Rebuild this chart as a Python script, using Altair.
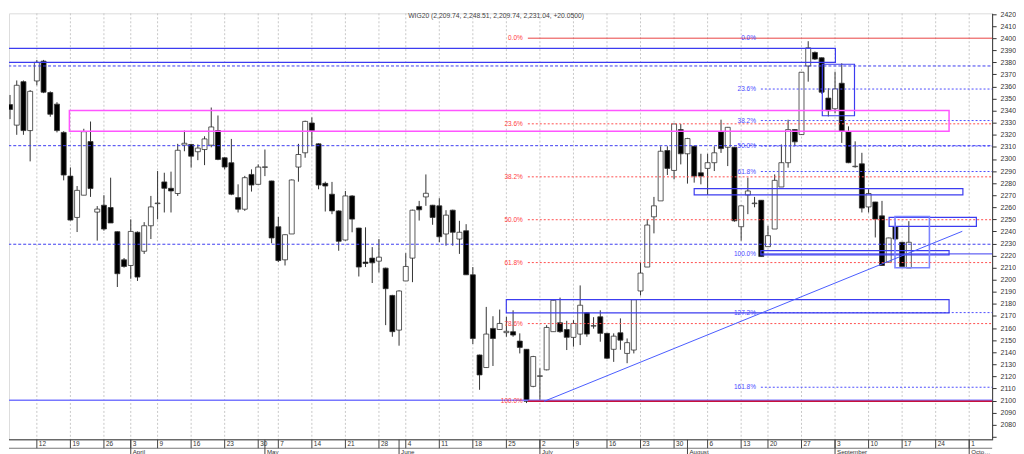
import altair as alt
import pandas as pd

# ---------------- data (WIG20 daily, 2018-03-06 .. 2018-09-18) ----------------
open_ = [2345, 2328, 2364, 2323.5, 2364.6, 2381, 2355, 2345.4, 2322, 2285.8,
         2251.6, 2270, 2314.4, 2256, 2261.7, 2259.8, 2239.8, 2216.5, 2211.8, 2239.3,
         2223.6, 2244.7, 2263, 2281, 2275.7, 2271.4, 2311.5, 2312, 2306, 2307.8,
         2311.4, 2323.5, 2301, 2296.9, 2268, 2258.4, 2287.2, 2279, 2293, 2281.8,
         2243.9, 2216.5, 2237.9, 2293.3, 2305.1, 2329.8, 2312.5, 2279.8, 2270.8, 2257,
         2232.9, 2269.4, 2242.8, 2214.6, 2217.9, 2215.4, 2209.6, 2187, 2158.3, 2199,
         2217.9, 2260.7, 2268.6, 2261.7, 2261.2, 2237.9, 2257.6, 2233.7, 2240.6, 2204.1,
         2137.7, 2127.3, 2159.7, 2158.8, 2156.2, 2157, 2149.2, 2142.4, 2111.7, 2120,
         2125.4, 2157, 2164.4, 2158.8, 2152.3, 2155, 2172.6, 2161.6, 2169.3, 2155.6,
         2142.4, 2156.1, 2139, 2141.8, 2190.7, 2210.5, 2252.1, 2265.3, 2307, 2290.5,
         2324.3, 2304.3, 2310.5, 2288.6, 2292.2, 2296.9, 2322.4, 2309.7, 2309.7, 2243.9,
         2270.2, 2263, 2265.8, 2227.4, 2242, 2276.8, 2296.9, 2324.3, 2320.2, 2377,
         2388.2, 2383.8, 2350.4, 2341.6, 2362.7, 2322.4, 2293.6, 2296, 2260.3, 2264.4,
         2252.9, 2214.6, 2243.9, 2231, 2209.74]
high = [2353, 2365, 2365, 2357, 2382, 2382, 2356, 2347, 2323, 2293,
        2277.6, 2325, 2331, 2261, 2270, 2284.5, 2240, 2218, 2250, 2240,
        2247.7, 2269.4, 2290, 2288.6, 2289.5, 2312.5, 2323.5, 2312.5, 2312, 2318.8,
        2342.6, 2336, 2301.5, 2316.6, 2279, 2286, 2291.4, 2295.5, 2307.8, 2282,
        2252, 2237.5, 2283, 2312.5, 2331.7, 2334.4, 2313, 2281.2, 2281, 2257.5,
        2273.5, 2270, 2243, 2243.4, 2227, 2233.7, 2210, 2187.5, 2191.2, 2222,
        2258, 2265.3, 2287.2, 2262, 2267.5, 2257.6, 2258, 2248.8, 2246, 2210.5,
        2138, 2177.5, 2169.8, 2175.3, 2169.3, 2174.7, 2155.6, 2142.5, 2137, 2126.7,
        2162.4, 2183.5, 2185.2, 2166, 2166.5, 2195.3, 2173, 2169, 2174.7, 2156,
        2155.6, 2168, 2151.4, 2184, 2214.6, 2250.2, 2268.6, 2310.5, 2310.5, 2329,
        2329, 2317.5, 2311, 2304.3, 2304.3, 2310.5, 2332.5, 2326.5, 2310, 2261.5,
        2284.5, 2268.6, 2266, 2244.7, 2287.2, 2312, 2332.5, 2324.5, 2372, 2397.5,
        2389, 2384, 2358.6, 2372.3, 2379.2, 2327, 2314.6, 2305.1, 2274.9, 2264.5,
        2265.3, 2234.8, 2247.5, 2231.2, 2248.51]
low = [2333, 2320, 2320, 2298, 2361, 2354.5, 2335, 2322, 2282.3, 2249,
       2239.5, 2270, 2268.6, 2232.4, 2240.6, 2247, 2194, 2210, 2200.8, 2199,
       2221.4, 2233.7, 2250, 2255.7, 2255.7, 2269.4, 2306.4, 2292.8, 2299, 2294.9,
       2309.7, 2299, 2291.4, 2270, 2255.7, 2257, 2273, 2279, 2285.8, 2230.2,
       2214.6, 2211.8, 2237.9, 2281.2, 2301, 2310.5, 2274.9, 2256.5, 2254.3, 2224,
       2232.4, 2239.3, 2202.7, 2210.5, 2197.3, 2206, 2162.4, 2152.8, 2145.4, 2199,
       2198, 2249, 2261.2, 2245.5, 2231, 2228.2, 2228.2, 2221.4, 2204, 2146.8,
       2108.9, 2127, 2128.6, 2158.5, 2152.8, 2152.8, 2139, 2097.9, 2111, 2099.3,
       2125, 2157, 2156.1, 2141.8, 2144.6, 2145.9, 2152.8, 2159.5, 2148.7, 2134.5,
       2132, 2142, 2130.9, 2139, 2187, 2210.5, 2238.4, 2265.3, 2286.7, 2283.1,
       2295.5, 2279.6, 2280.4, 2279, 2270.2, 2290, 2305, 2294.1, 2248, 2232.4,
       2254.3, 2260, 2219, 2227.4, 2242, 2276.8, 2292.8, 2310.5, 2320, 2364,
       2382, 2354, 2335.2, 2338, 2313.3, 2296.5, 2292.8, 2255.7, 2255.7, 2235,
       2211.5, 2214.4, 2232.4, 2211, 2209.74]
close = [2341, 2361, 2323.5, 2356, 2380, 2355.3, 2337, 2323.5, 2286.7, 2249.4,
         2274, 2322.6, 2275.5, 2258.5, 2242, 2247, 2205, 2211, 2240, 2202.2,
         2244.7, 2260.3, 2263.5, 2275.7, 2273.5, 2307.2, 2313, 2302.3, 2309, 2316.6,
         2326.5, 2299.6, 2293.3, 2270.8, 2258.4, 2284.5, 2278.4, 2293.3, 2293.5, 2234.6,
         2215.9, 2237.3, 2282.6, 2303.7, 2331.1, 2323.5, 2278.4, 2277.6, 2257, 2231.8,
         2269.4, 2250.2, 2210.5, 2213.5, 2214, 2218.7, 2192.6, 2157, 2190.7, 2211,
         2257.6, 2257.9, 2271.6, 2251.6, 2235.6, 2253.5, 2239.3, 2239.3, 2204.1, 2151.4,
         2121.2, 2155, 2151.4, 2163.8, 2157.3, 2154.2, 2144, 2099.3, 2136.4, 2120.5,
         2160.5, 2183, 2157, 2152.3, 2163.8, 2178.9, 2155, 2162, 2155.6, 2135,
         2153.3, 2150, 2147.9, 2183.5, 2205.5, 2245.3, 2261.2, 2306.4, 2292.2, 2329,
         2304.3, 2316.9, 2285.8, 2285.8, 2296.9, 2305.1, 2308.6, 2326.2, 2248.8, 2261.2,
         2273.5, 2263.5, 2219.2, 2236.5, 2282.3, 2296.9, 2324.3, 2314.2, 2371.8, 2392,
         2382.7, 2355.3, 2340, 2358, 2322.9, 2296.9, 2294, 2259.3, 2271.4, 2250.2,
         2211.8, 2234.6, 2233.7, 2210.99, 2231.04]

# exchange holidays (GPW 2018) inside the shown period
holidays = ["2018-03-30", "2018-04-02", "2018-05-01", "2018-05-03", "2018-05-31", "2018-08-15"]
month_names = ["March", "April", "May", "June", "July", "August", "September", "October"]

# Fibonacci levels drawn on the chart
red_levels = [2400, 2329.1, 2285.2, 2249.7, 2214.2, 2163.7, 2099.4]
red_labels = ["0.0%", "23.6%", "38.2%", "50.0%", "61.8%", "78.6%", "100.0%"]
blue_levels = [2400, 2357.9, 2331.8, 2310.7, 2289.6, 2221.4, 2172.8, 2111.0]
blue_labels = ["0.0%", "23.6%", "38.2%", "50.0%", "61.8%", "100.0%", "127.2%", "161.8%"]
full_dash_levels = [2377, 2311, 2229.4]
support_level = 2100.2

# rectangles (trading-day index, price)
rect_x1 = [0, 122.1, 9.85, 103.0, 132.06, 132.94, 112.94, 74.99]
rect_x2 = [124.05, 126.9, 141.0, 143.06, 145.07, 138.07, 141.0, 141.0]
rect_top = [2391.5, 2378.4, 2340.2, 2275.5, 2251.6, 2252.4, 2224.1, 2183.5]
rect_bot = [2380.0, 2335.8, 2323.0, 2270.2, 2244.2, 2209.9, 2220.6, 2172.6]
rect_kind = ["blue", "blue", "magenta", "blue", "blue", "light", "blue", "blue"]

# trend line
trend_x = [80.62, 142.97]
trend_p = [2099.3, 2240.1]

red_start, blue_start = 78.2, 112.94
red_label_x, blue_label_x = 77.44, 112.2

title_text = "WIG20 (2,209.74, 2,248.51, 2,209.74, 2,231.04, +20.0500)"

# ---------------- calendar ----------------
days = [d for d in pd.bdate_range("2018-03-05", "2018-10-05")
        if d.strftime("%Y-%m-%d") not in holidays]
cal = pd.DataFrame({"date": days})
cal["idx"] = range(len(cal))          # 2018-03-05 -> 0
cal["wk"] = cal["date"].dt.isocalendar().week.astype(int)
cal["mo"] = cal["date"].dt.month

XMIN, XMAX = 1.587, 146.68
YMIN, YMAX = 2067.5, 2420.6
W, H = 989, 429

wk = cal.groupby("wk").first().reset_index()
wk = wk[(wk["idx"] >= XMIN) & (wk["idx"] <= XMAX)]
week_df = pd.DataFrame({"idx": wk["idx"].values,
                        "lab": wk["date"].dt.day.astype(str).values})
mo = cal.groupby("mo").first().reset_index()
mo["name"] = [month_names[m - 3] for m in mo["mo"]]
mo = mo[(mo["idx"] >= XMIN) & (mo["idx"] <= XMAX)]
month_df = pd.DataFrame({"idx": mo["idx"].values, "name": mo["name"].values})

cdf = pd.DataFrame({"idx": cal["idx"].values[1:1 + len(close)],
                    "open": open_, "high": high, "low": low, "close": close})

xs = alt.Scale(domain=[XMIN, XMAX], nice=False, zero=False)
ys = alt.Scale(domain=[YMIN, YMAX], nice=False, zero=False)
yaxis = alt.Axis(orient="right", values=list(range(2070, 2430, 10)), format="d",
                 labelExpr="datum.value < 2075 ? '' : datum.label",
                 labelFontSize=7, labelColor="#333333", tickSize=4,
                 tickColor="#333333", domainColor="#333333", labelPadding=4,
                 grid=False, title=None)


def X(f):
    return alt.X(f, type="quantitative", scale=xs, axis=None)


def Y(f):
    return alt.Y(f, type="quantitative", scale=ys, axis=yaxis)


layers = []

# vertical grid
layers.append(alt.Chart(week_df).mark_rule(color="#c8c8c8", strokeDash=[2, 2], strokeWidth=1)
              .encode(x=X("idx"), y=alt.value(0), y2=alt.value(H)))

# candles
base = alt.Chart(cdf)
layers.append(base.mark_rule(color="#333333", strokeWidth=1, clip=True)
              .encode(x=X("idx"), y=Y("low"), y2="high"))
layers.append(base.mark_bar(size=5, stroke="#333333", strokeWidth=0.8, clip=True)
              .encode(x=X("idx"), y=Y("open"), y2="close",
                      fill=alt.condition("datum.close >= datum.open",
                                         alt.value("white"), alt.value("black"))))

# horizontal lines
def hseg(levels, x1, x2):
    return pd.DataFrame({"x1": [x1] * len(levels), "x2": [x2] * len(levels), "p": levels})


def hlayer(df, **style):
    return alt.Chart(df).mark_rule(clip=True, **style).encode(x=X("x1"), x2="x2", y=Y("p"))


layers.append(hlayer(hseg(full_dash_levels, 0, 150), color="#3c3cf0", strokeDash=[3, 2], strokeWidth=1))
layers.append(hlayer(hseg([support_level], 0, 150), color="#7878ff", strokeWidth=1.5))
layers.append(hlayer(hseg(red_levels[1:6], red_start, 150), color="#ff4d4d", strokeDash=[2, 2], strokeWidth=1))
layers.append(hlayer(hseg(red_levels[:1], red_start, 150), color="#e84444", strokeWidth=1))
layers.append(hlayer(hseg(red_levels[6:], red_start, 150), color="#c8103c", strokeWidth=1.6))
layers.append(hlayer(hseg(blue_levels[1:5] + blue_levels[6:], blue_start, 150),
                     color="#4d4dff", strokeDash=[2, 2], strokeWidth=1))
layers.append(hlayer(hseg(blue_levels[5:6], blue_start, 150), color="#3c3cf0", strokeWidth=1))

# rectangles
rdf = pd.DataFrame({"x1": rect_x1, "x2": rect_x2, "top": rect_top, "bot": rect_bot, "kind": rect_kind})
rect_styles = {"blue": ("#3c3cf0", 1.2), "magenta": ("#ff55ff", 1.5), "light": ("#7c84ff", 1.6)}
for k, (col, sw) in rect_styles.items():
    layers.append(alt.Chart(rdf[rdf["kind"] == k]).mark_rect(fill="transparent", stroke=col,
                                                             strokeWidth=sw, clip=True)
                  .encode(x=X("x1"), x2="x2", y=Y("top"), y2="bot"))

# trend line
tdf = pd.DataFrame({"x1": [trend_x[0]], "x2": [trend_x[1]], "p1": [trend_p[0]], "p2": [trend_p[1]]})
layers.append(alt.Chart(tdf).mark_rule(color="#4a5cff", strokeWidth=1, clip=True)
              .encode(x=X("x1"), x2="x2", y=Y("p1"), y2="p2"))

# fib labels
rl = pd.DataFrame({"x": [red_label_x] * len(red_levels), "p": red_levels, "t": red_labels})
bl = pd.DataFrame({"x": [blue_label_x] * len(blue_levels), "p": blue_levels, "t": blue_labels})
layers.append(alt.Chart(rl).mark_text(align="right", baseline="middle", fontSize=6.5, color="#ff4040")
              .encode(x=X("x"), y=Y("p"), text="t"))
layers.append(alt.Chart(bl).mark_text(align="right", baseline="middle", fontSize=6.5, color="#4a4aff")
              .encode(x=X("x"), y=Y("p"), text="t"))

# title
layers.append(alt.Chart(pd.DataFrame({"t": [title_text]})).mark_text(
    align="center", baseline="top", fontSize=6.8, color="#444444")
    .encode(x=alt.value(490), y=alt.value(0), text="t"))

# bottom two-row date axis
layers.append(alt.Chart(pd.DataFrame({"a": [0]})).mark_rule(color="#333333", strokeWidth=1)
              .encode(x=alt.value(0), x2=alt.value(W), y=alt.value(H)))
layers.append(alt.Chart(pd.DataFrame({"a": [0]})).mark_rule(color="#777777", strokeWidth=1.2)
              .encode(x=alt.value(0), x2=alt.value(W), y=alt.value(H + 8.5)))
layers.append(alt.Chart(week_df).mark_rule(color="#444444", strokeWidth=1)
              .encode(x=X("idx"), y=alt.value(H), y2=alt.value(H + 8.5)))
layers.append(alt.Chart(week_df).mark_text(align="left", baseline="middle", dx=2, fontSize=6.5,
                                           color="#333333")
              .encode(x=X("idx"), y=alt.value(H + 4.5), text="lab"))
layers.append(alt.Chart(month_df).mark_rule(color="#444444", strokeWidth=1)
              .encode(x=X("idx"), y=alt.value(H), y2=alt.value(H + 17)))
layers.append(alt.Chart(month_df[month_df["name"] != "October"]).mark_text(
    align="left", baseline="middle", dx=2, fontSize=6.2, color="#333333")
    .encode(x=X("idx"), y=alt.value(H + 12.3), text="name"))
layers.append(alt.Chart(month_df[month_df["name"] == "October"]).mark_text(
    align="left", baseline="middle", dx=2, fontSize=6.2, color="#333333", limit=20, ellipsis="")
    .encode(x=X("idx"), y=alt.value(H + 12.3), text="name"))

chart = (alt.layer(*layers)
         .properties(width=W, height=H, padding=0, autosize=alt.AutoSizeParams(type="pad"))
         .configure_view(stroke=None)
         .configure(font="Liberation Sans", background="white"))

chart.save("out.html", embed_options={"renderer": "svg", "actions": False})
